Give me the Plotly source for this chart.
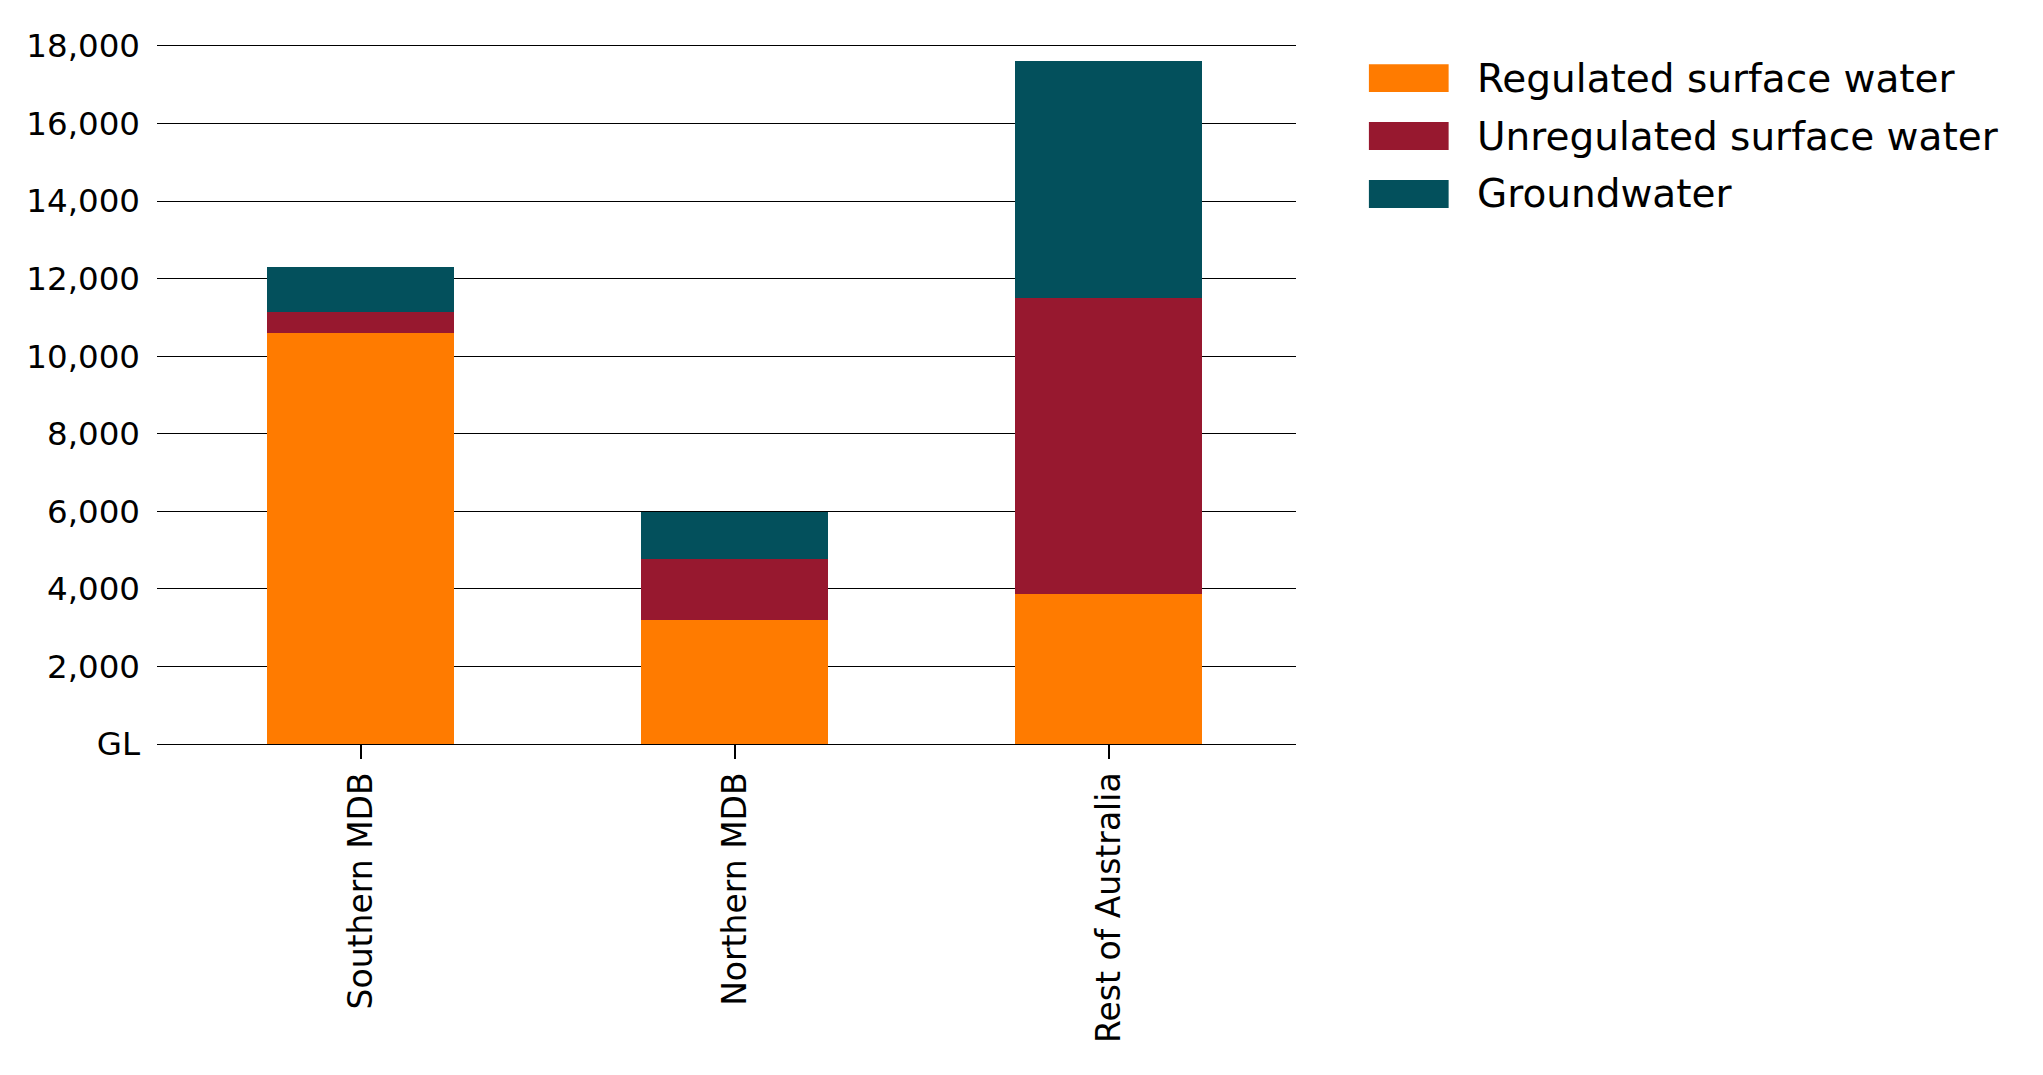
import plotly.graph_objects as go

# Water entitlements by region (GL)
regions = ['Southern MDB', 'Northern MDB', 'Rest of Australia']
series_names = ['Regulated surface water', 'Unregulated surface water', 'Groundwater']
regulated = [10610, 3200, 3870]
unregulated = [520, 1560, 7640]
groundwater = [1160, 1230, 6100]
colours = ['#FF7B00', '#97182F', '#03505C']

y_ticks = [0, 2000, 4000, 6000, 8000, 10000, 12000, 14000, 16000, 18000]
y_labels = ['GL', '2,000', '4,000', '6,000', '8,000', '10,000', '12,000', '14,000', '16,000', '18,000']

fig = go.Figure()
for name, vals, col in zip(series_names, [regulated, unregulated, groundwater], colours):
    fig.add_trace(go.Bar(x=regions, y=vals, name=name, marker_color=col,
                         marker_line_width=0))

# legend drawn by hand so the swatches are big like the original
shapes = []
annotations = []
for i, (name, col) in enumerate(zip(series_names, colours)):
    yc = 0.954 - i * 0.083
    shapes.append(dict(type='rect', xref='paper', yref='paper',
                       x0=1.064, x1=1.134, y0=yc - 0.02, y1=yc + 0.02,
                       fillcolor=col, line_width=0))
    annotations.append(dict(x=1.157, y=yc, xref='paper', yref='paper',
                            text=name, showarrow=False, xanchor='left', yanchor='middle',
                            font=dict(family='DejaVu Sans', size=39, color='black')))

fig.update_layout(
    barmode='stack',
    bargap=0.5,
    width=2043, height=1075,
    margin=dict(l=149, r=755, t=38, b=339),
    plot_bgcolor='white', paper_bgcolor='white',
    font=dict(family='DejaVu Sans', size=32, color='black'),
    showlegend=False,
    shapes=shapes,
    annotations=annotations,
)
fig.update_xaxes(range=[-0.545, 2.5], tickangle=-90, ticks='outside', ticklen=14,
                 tickcolor='black', tickwidth=1.5, showline=True, mirror=True,
                 linecolor='black', linewidth=1.3, showgrid=False, tickfont=dict(size=33))
fig.update_yaxes(range=[0, 18000], tickvals=y_ticks, ticktext=y_labels,
                 showgrid=True, gridcolor='black', gridwidth=1.3, zeroline=False,
                 ticklabelstandoff=16, tickfont=dict(size=32.5))

fig.write_html("out.html")
